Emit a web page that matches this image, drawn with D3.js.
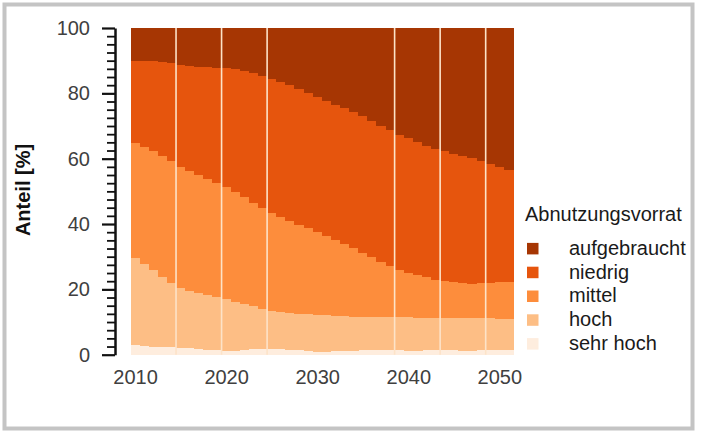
<!DOCTYPE html>
<html>
<head>
<meta charset="utf-8">
<script src="https://cdn.jsdelivr.net/npm/d3@7"></script>
<style>
body { margin: 0; background: #fff; }
text { font-family: "Liberation Sans", Arial, Helvetica, sans-serif; }
</style>
</head>
<body>
<svg id="chart"></svg>
<script>
// categories (stack order, bottom to top)
var categories = ["sehr hoch", "hoch", "mittel", "niedrig", "aufgebraucht"];

var years = [2010, 2011, 2012, 2013, 2014, 2015, 2016, 2017, 2018, 2019,
             2020, 2021, 2022, 2023, 2024, 2025, 2026, 2027, 2028, 2029,
             2030, 2031, 2032, 2033, 2034, 2035, 2036, 2037, 2038, 2039,
             2040, 2041, 2042, 2043, 2044, 2045, 2046, 2047, 2048, 2049,
             2050, 2051];

// share in % per year
var sehrHoch = [3.0, 2.8, 2.6, 2.4, 2.3, 2.1, 2.0, 1.8, 1.6, 1.4,
                1.2, 1.3, 1.5, 1.7, 1.9, 1.9, 1.8, 1.6, 1.4, 1.2,
                1.0, 1.0, 1.1, 1.2, 1.3, 1.4, 1.5, 1.5, 1.4, 1.4,
                1.3, 1.3, 1.4, 1.5, 1.5, 1.4, 1.3, 1.3, 1.4, 1.5,
                1.5, 1.5];
var hoch = [26.8, 25.2, 23.4, 21.6, 19.7, 18.4, 17.6, 17.1, 16.7, 16.3,
            15.8, 15.0, 14.1, 13.2, 12.3, 11.7, 11.4, 11.3, 11.3, 11.3,
            11.3, 11.1, 10.9, 10.6, 10.4, 10.2, 10.1, 10.1, 10.2, 10.1,
            10.2, 10.1, 9.9, 9.7, 9.7, 9.9, 10.1, 10.1, 9.9, 9.7,
            9.6, 9.5];
var mittel = [35.0, 35.8, 36.5, 37.0, 37.5, 37.1, 36.8, 36.3, 35.7, 35.1,
              34.5, 33.7, 32.8, 31.7, 30.7, 29.9, 29.0, 28.1, 27.2, 26.4,
              25.5, 24.4, 23.2, 22.1, 20.9, 19.7, 18.4, 17.0, 15.6, 14.5,
              13.7, 13.1, 12.5, 11.9, 11.4, 10.9, 10.5, 10.4, 10.6, 10.8,
              11.1, 11.4];
var niedrig = [25.2, 26.2, 27.4, 28.7, 29.9, 31.3, 32.2, 33.1, 34.1, 35.1,
               36.2, 37.5, 38.5, 39.6, 40.6, 41.1, 41.4, 41.6, 41.6, 41.4,
               41.2, 41.3, 41.4, 41.6, 41.9, 42.0, 41.7, 41.6, 41.6, 41.3,
               41.1, 40.7, 40.2, 39.9, 39.7, 39.4, 39.0, 38.4, 37.6, 36.5,
               35.3, 34.1];
var aufgebraucht = [10.0, 10.0, 10.1, 10.3, 10.6, 11.1, 11.4, 11.7, 11.9, 12.1,
                    12.3, 12.5, 13.1, 13.8, 14.5, 15.4, 16.4, 17.4, 18.5, 19.7,
                    21.0, 22.2, 23.4, 24.5, 25.5, 26.7, 28.3, 29.8, 31.2, 32.7,
                    33.7, 34.8, 36.0, 37.0, 37.7, 38.4, 39.1, 39.8, 40.5, 41.5,
                    42.5, 43.5];

// years after which a light separator line shows
var breakYears = [2014, 2019, 2024, 2038, 2043, 2048];

var yTicks = [0, 20, 40, 60, 80, 100];
var yMinorTicks = [2.5, 5, 7.5, 10, 12.5, 15, 17.5, 22.5, 25, 27.5, 30, 32.5, 35, 37.5,
                   42.5, 45, 47.5, 50, 52.5, 55, 57.5, 62.5, 65, 67.5, 70, 72.5, 75, 77.5,
                   82.5, 85, 87.5, 90, 92.5, 95, 97.5];
var xTicks = [2010, 2020, 2030, 2040, 2050];

var colors = ["#feedde", "#fdbe85", "#fd8d3c", "#e6550d", "#a63603"];

var width = 701,
    height = 438;

var svg = d3.select("#chart")
  .attr("width", width)
  .attr("height", height);

// outer frame
svg.append("rect")
  .attr("x", 4.5)
  .attr("y", 4.5)
  .attr("width", 688)
  .attr("height", 424)
  .attr("fill", "none")
  .attr("stroke", "#c4c4c4")
  .attr("stroke-width", 4);

var x = d3.scaleLinear()
  .domain([2009.5, 2051.5])
  .range([130.5, 513]);

var y = d3.scaleLinear()
  .domain([0, 100])
  .range([354.7, 28]);

var color = d3.scaleOrdinal()
  .domain(categories)
  .range(colors);

var table = years.map(function(yr, i) {
  return {
    year: yr,
    "sehr hoch": sehrHoch[i],
    "hoch": hoch[i],
    "mittel": mittel[i],
    "niedrig": niedrig[i],
    "aufgebraucht": aufgebraucht[i]
  };
});

var stacked = d3.stack().keys(categories)(table);

// stacked yearly bars
svg.append("g")
  .selectAll("g")
  .data(stacked)
  .enter()
  .append("g")
  .attr("fill", function(d) { return color(d.key); })
  .selectAll("rect")
  .data(function(d) { return d; })
  .enter()
  .append("rect")
  .attr("x", function(d) { return x(d.data.year - 0.5); })
  .attr("width", function(d) { return x(d.data.year + 0.5) - x(d.data.year - 0.5) + 0.6; })
  .attr("y", function(d) { return y(d[1]); })
  .attr("height", function(d) { return y(d[0]) - y(d[1]) + 0.3; })
  .attr("shape-rendering", "crispEdges");

// separator lines
svg.append("g")
  .selectAll("line")
  .data(breakYears)
  .enter()
  .append("line")
  .attr("x1", function(d) { return x(d + 0.5); })
  .attr("x2", function(d) { return x(d + 0.5); })
  .attr("y1", y(100))
  .attr("y2", y(0))
  .attr("stroke", "#fde3c8")
  .attr("stroke-width", 1.6);

// Y axis: minor ticks, then major ticks with the axis line
svg.append("g")
  .attr("transform", "translate(115,0)")
  .call(d3.axisLeft(y).tickValues(yMinorTicks).tickSize(8).tickFormat(""))
  .call(function(g) { g.select(".domain").remove(); })
  .selectAll("line")
  .attr("stroke", "#111")
  .attr("stroke-width", 1.8);

var yAxis = svg.append("g")
  .attr("transform", "translate(115,0)")
  .call(d3.axisLeft(y).tickValues(yTicks).tickSize(13).tickSizeOuter(0).tickPadding(12));

yAxis.select(".domain")
  .attr("stroke", "#111")
  .attr("stroke-width", 2.5);
yAxis.selectAll(".tick line")
  .attr("stroke", "#111")
  .attr("stroke-width", 2.2);
yAxis.selectAll("text")
  .style("font-size", "20px")
  .style("font-family", "'Liberation Sans', Arial, sans-serif")
  .attr("fill", "#404040");

// X axis: labels only
var xAxis = svg.append("g")
  .attr("transform", "translate(0," + y(0) + ")")
  .call(d3.axisBottom(x).tickValues(xTicks).tickFormat(d3.format("d")).tickSize(0).tickPadding(15.5));

xAxis.select(".domain").remove();
xAxis.selectAll("text")
  .style("font-size", "20px")
  .style("font-family", "'Liberation Sans', Arial, sans-serif")
  .attr("fill", "#404040");

// Y axis title
svg.append("text")
  .attr("transform", "translate(30,190) rotate(-90)")
  .attr("text-anchor", "middle")
  .text("Anteil [%]")
  .style("font-size", "20px")
  .style("font-weight", "bold")
  .style("fill", "#111");

// legend
svg.append("text")
  .attr("x", 525)
  .attr("y", 221)
  .text("Abnutzungsvorrat")
  .style("font-size", "20px")
  .style("fill", "#1a1a1a");

var legend = svg.append("g")
  .selectAll("g")
  .data(categories.slice().reverse())
  .enter()
  .append("g")
  .attr("transform", function(d, i) { return "translate(0," + (248.7 + i * 23.8) + ")"; });

legend.append("rect")
  .attr("x", 527)
  .attr("y", -5.8)
  .attr("width", 11.5)
  .attr("height", 11.5)
  .attr("fill", function(d) { return color(d); });

legend.append("text")
  .attr("x", 569)
  .attr("y", 6)
  .text(function(d) { return d; })
  .style("font-size", "20px")
  .style("fill", "#1a1a1a");
</script>
</body>
</html>
